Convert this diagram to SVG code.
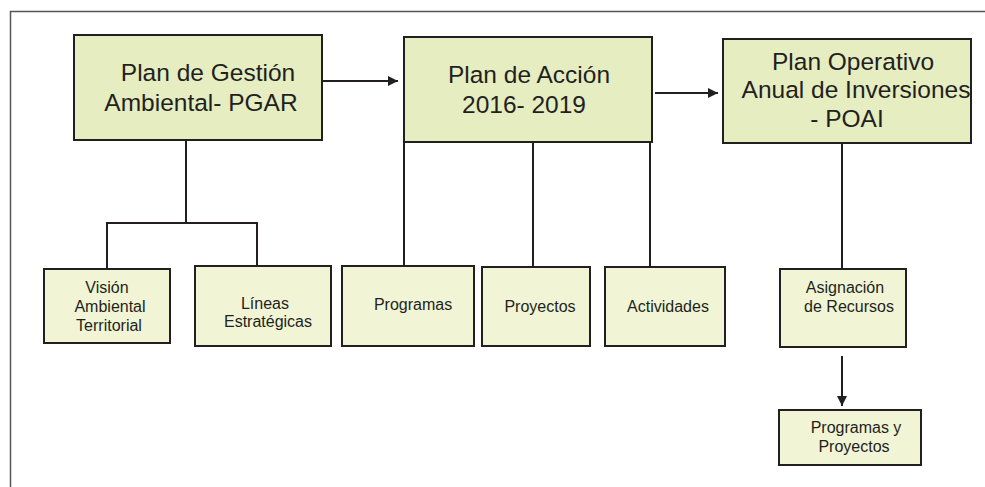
<svg xmlns="http://www.w3.org/2000/svg" width="985" height="487" viewBox="0 0 985 487">
<style>
.big{fill:#e5edc1;stroke:#231f20;stroke-width:2}
.small{fill:#f1f5d6;stroke:#231f20;stroke-width:2}
.t{font-family:"Liberation Sans",Arial,sans-serif;fill:#231f20;text-anchor:middle}
.bt{font-size:24.5px}
.st{font-size:16px}
.ln{fill:none;stroke:#231f20;stroke-width:2}
</style>
<defs>
<marker id="ah" markerWidth="10" markerHeight="10" refX="10" refY="5" orient="auto" markerUnits="userSpaceOnUse">
<path d="M0,0 L10,5 L0,10 Z" fill="#231f20"/>
</marker>
</defs>
<rect width="985" height="487" fill="#fff"/>
<path d="M10.5,487 V11.5 H985" fill="none" stroke="#555" stroke-width="1.5"/>
<g id="connectors">
<line class="ln" x1="322" y1="81" x2="398" y2="81" marker-end="url(#ah)"/>
<line class="ln" x1="655" y1="93" x2="718" y2="93" marker-end="url(#ah)"/>
<path class="ln" d="M186,140 V223 M107,268 V223 H257 V266"/>
<line class="ln" x1="404" y1="142" x2="404" y2="266"/>
<line class="ln" x1="533" y1="142" x2="533" y2="267"/>
<line class="ln" x1="650" y1="142" x2="650" y2="267"/>
<line class="ln" x1="842" y1="143" x2="842" y2="269"/>
<line class="ln" x1="842" y1="356" x2="842" y2="406" marker-end="url(#ah)"/>
</g>
<g id="pgar">
<rect class="big" x="74" y="35" width="248" height="105"/>
<text class="t bt" x="208" y="81">Plan de Gestión</text>
<text class="t bt" x="201" y="111">Ambiental- PGAR</text>
</g>
<g id="plan-accion">
<rect class="big" x="404" y="37" width="248" height="105"/>
<text class="t bt" x="529" y="83">Plan de Acción</text>
<text class="t bt" x="524" y="113">2016- 2019</text>
</g>
<g id="poai">
<rect class="big" x="723" y="39" width="248" height="104"/>
<text class="t bt" x="853" y="70">Plan Operativo</text>
<text class="t bt" x="856" y="98">Anual de Inversiones</text>
<text class="t bt" x="847" y="127">- POAI</text>
</g>
<g id="vision">
<rect class="small" x="44" y="269" width="126" height="74"/>
<text class="t st" x="107" y="293">Visión</text>
<text class="t st" x="110" y="312">Ambiental</text>
<text class="t st" x="109" y="331">Territorial</text>
</g>
<g id="lineas">
<rect class="small" x="195" y="266" width="136" height="80"/>
<text class="t st" x="265" y="309">Líneas</text>
<text class="t st" x="268" y="327">Estratégicas</text>
</g>
<g id="programas">
<rect class="small" x="342" y="266" width="132" height="80"/>
<text class="t st" x="413" y="310">Programas</text>
</g>
<g id="proyectos">
<rect class="small" x="482" y="267" width="108" height="79"/>
<text class="t st" x="540" y="312">Proyectos</text>
</g>
<g id="actividades">
<rect class="small" x="605" y="267" width="120" height="79"/>
<text class="t st" x="668" y="312">Actividades</text>
</g>
<g id="asignacion">
<rect class="small" x="780" y="269" width="126" height="78"/>
<text class="t st" x="845" y="293">Asignación</text>
<text class="t st" x="849" y="312">de Recursos</text>
</g>
<g id="prog-proy">
<rect class="small" x="779" y="410" width="142" height="55"/>
<text class="t st" x="856" y="433">Programas y</text>
<text class="t st" x="854" y="452">Proyectos</text>
</g>
</svg>
